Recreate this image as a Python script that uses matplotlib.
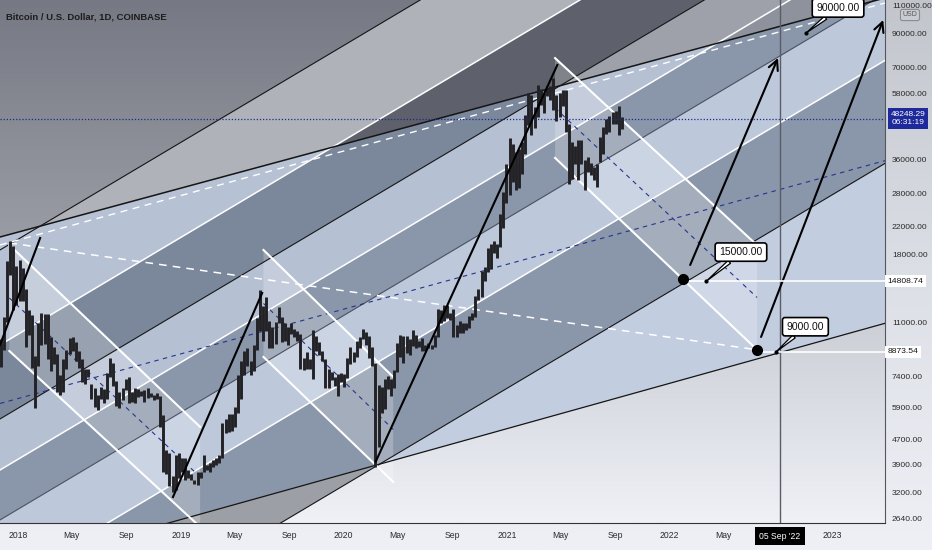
import numpy as np
import pandas as pd
import matplotlib.pyplot as plt
import matplotlib.dates as mdates
import matplotlib.font_manager as fm
from matplotlib.colors import LinearSegmentedColormap
from matplotlib.patches import Polygon
from matplotlib.ticker import FixedLocator, NullLocator, FuncFormatter

# BTC/USD weekly ranges (weeks starting Monday 2017-11-20)
week_start = "2017-11-20"
highs = [
    9750, 11400, 17200, 19800, 19100, 16500,
    # 2018
    17300, 16300, 14000, 12000, 11600, 8600, 10900, 11800, 11700, 11700, 9900, 9200, 8700,
    7500, 8400, 9000, 9800, 9900, 9500, 8900, 8400, 7800, 7800, 7000, 6800, 6500, 6850,
    6750, 7600, 8500, 8200, 7150, 6600, 6800, 7300, 7400, 6600, 6800, 6750, 6650, 6700,
    6800, 6550, 6500, 6550, 6450, 5600, 4350, 4250, 3600, 4200, 4250, 4100,
    # 2019
    4100, 3750, 3650, 3500, 3700, 3700, 4200, 3900, 3950, 4050, 4100, 4200, 5300, 5450,
    5650, 5650, 5950, 7500, 8300, 8900, 9100, 8300, 9300, 11300, 13900, 12400, 13200,
    11100, 10600, 11000, 12300, 11400, 10950, 10650, 10950, 10500, 10300, 10100, 8500,
    8850, 8400, 10400, 9950, 9550, 8900, 8400, 7850, 7650, 7400, 7550, 7600, 7550,
    # 2020
    8450, 9150, 8850, 9600, 9900, 10500, 10250, 9950, 9200, 8200, 6950, 6850, 7300, 7450,
    7300, 7750, 9450, 10050, 9950, 9950, 9750, 10400, 9990, 9600, 9800, 9350, 9450, 9300,
    10000, 12100, 12000, 12450, 12450, 11800, 12100, 10800, 11100, 10950, 10950, 11500,
    11750, 13350, 14000, 15950, 16450, 18800, 19400, 19900, 19400, 24200, 28400, 34800,
    # 2021
    41950, 40100, 37900, 38600, 40900, 49700, 58350, 57500, 52600, 61800, 60100, 58000,
    60200, 61300, 64850, 57500, 58400, 59600, 59600, 46600, 40800, 39500, 41300, 41300,
    35750, 36600, 35100, 34000, 34800, 42300, 45300, 48200, 49400, 50500, 51000, 52900,
    48850,
]
lows = [
    7950, 9000, 11000, 15500, 12000, 12500,
    # 2018
    12800, 12800, 9200, 10000, 7900, 5900, 8000, 9300, 9400, 8400, 7700, 8100, 6600,
    6500, 6600, 7800, 8700, 8900, 8300, 7900, 7100, 7000, 7400, 6300, 5950, 5800, 6300,
    6100, 6300, 7400, 6900, 6000, 5900, 6250, 6700, 6100, 6150, 6100, 6400, 6450, 6150,
    6350, 6400, 6250, 6300, 5150, 3700, 3650, 3350, 3200, 3250, 3550, 3700,
    # 2019
    3500, 3550, 3500, 3400, 3380, 3550, 3700, 3750, 3700, 3850, 3900, 3950, 4100, 4900,
    4950, 5000, 5150, 5700, 6300, 7500, 8000, 7500, 7700, 9000, 10300, 9600, 10300,
    9100, 9100, 9400, 10900, 9500, 9600, 9350, 10100, 9900, 9600, 7800, 7750,
    7800, 7850, 7300, 8900, 8650, 8300, 6800, 6800, 7200, 6900, 6450, 7100, 6850,
    # 2020
    7350, 8100, 8250, 8550, 9100, 9700, 9300, 8450, 8000, 3850, 4450, 5700, 5850, 6750,
    6450, 6800, 7650, 8550, 8150, 8800, 8650, 9250, 9100, 9200, 8950, 8950, 9100, 9050,
    9150, 9900, 10950, 11100, 11350, 11150, 9850, 9900, 10200, 10150, 10400, 10550,
    11200, 11400, 12950, 13200, 14800, 15800, 16200, 18200, 17600, 19000, 21800, 26100,
    # 2021
    27700, 30400, 28800, 29200, 32300, 37400, 46100, 43000, 45000, 49000, 53300, 50400,
    56800, 55450, 51500, 47500, 48800, 53000, 43800, 30000, 31200, 34800, 31000, 34800,
    28800, 32700, 32100, 31000, 29300, 35200, 37300, 43300, 43900, 46300, 46500, 42800,
    44700,
]

# visible range
x_left, x_right = "2017-11-21", "2023-04-29"
y_low, y_high = 2555, 114400

# ascending (steep) parallel channel: price of each line at left / right edge
steep_left = [18590, 9320, 5443, 3756, 2612, 1605, 759]
steep_right = [854000, 428000, 250000, 172650, 120000, 73750, 34880]
steep_colors = ["#151515", "white", "#151515", "white", "#4a5060", "white", "#151515"]
# shallow channel (upper / lower boundary) at left / right edge
shallow_upper = [20430, 116100]
shallow_lower = [1816, 10910]
shallow_dash = [19275, 111950]

# band colours (between consecutive steep lines) above / inside / below shallow channel
band_above = ["none", "#b0b2b9", "#5e616b", "#9ea1a9", "#8d929d", "#98a0ae", "#9d9fa6", "none"]
band_inside = ["#b6c1d3", "#b6c1d3", "#7b879a", "#b5c0d3", "#8a96aa", "#bdc8da", "#8a96a9", "#c3cde0"]
band_below = ["#9d9fa6"] * 7 + ["none"]

# descending channels
chan_start = ["2017-12-12", "2019-07-05", "2021-04-19"]
chan_end = ["2019-02-13", "2020-04-21", "2022-07-16"]
chan_up_start = [19280, 18590, 75000]
chan_up_end = [5135, 7386, 19250]
chan_lo_start = [8920, 8541, 36300]
chan_lo_end = [2482, 3443, 9000]

# trend lines (black) and arrows
trend_start = [("2017-11-21", 9320), ("2018-12-14", 3087), ("2020-03-13", 4000)]
trend_end = [("2018-02-19", 20280), ("2019-07-02", 13600), ("2021-04-24", 71330)]
arrow_start = [("2022-02-16", 16670), ("2022-07-25", 9877)]
arrow_end = [("2022-09-01", 75050), ("2023-04-25", 98930)]
fan_dash = [("2017-12-12", 19560), ("2022-07-16", 9000)]

# target dots, callouts and horizontal rays
dot_dates = ["2022-01-31", "2022-07-16"]
dot_prices = [15000, 9000]
callout_text = ["15000.00", "9000.00", "90000.00"]
callout_dates = ["2022-03-24", "2022-08-28", "2022-11-03"]
callout_prices = [14808.74, 8873.54, 90000]
ray_prices = [14808.74, 8873.54]

last_price = 48248.29
cross_date = "2022-09-05"

ytick_vals = [2640, 3200, 3900, 4700, 5900, 7400, 11000, 18000, 22000, 28000, 36000,
              58000, 70000, 90000, 110000]
xtick_dates = ["2018-01-01", "2018-05-01", "2018-09-01", "2019-01-01", "2019-05-01",
               "2019-09-01", "2020-01-01", "2020-05-01", "2020-09-01", "2021-01-01",
               "2021-05-01", "2021-09-01", "2022-01-01", "2022-05-01", "2023-01-01"]
xtick_labels = ["2018", "May", "Sep", "2019", "May", "Sep", "2020", "May", "Sep",
                "2021", "May", "Sep", "2022", "May", "2023"]


def d(s):
    return mdates.date2num(pd.Timestamp(s))


names = {f.name for f in fm.fontManager.ttflist}
narrow = "Liberation Sans Narrow" if "Liberation Sans Narrow" in names else "Liberation Sans"

fig = plt.figure(figsize=(9.32, 5.5), dpi=100)
pos = [0, 27 / 550, 885 / 932, 523 / 550]

# figure background (axis panels)
bg = fig.add_axes([0, 0, 1, 1], zorder=0)
bg.axis("off")
cm_fig = LinearSegmentedColormap.from_list("f", ["#eef0f6", "#dcdfe5", "#c3c5cc"])
bg.imshow(np.linspace(0, 1, 256).reshape(-1, 1), origin="lower", extent=(0, 1, 0, 1),
          aspect="auto", cmap=cm_fig)

# plot background gradient
pbg = fig.add_axes(pos, zorder=1)
pbg.axis("off")
cm_plot = LinearSegmentedColormap.from_list(
    "p", [(0, "#eff1f7"), (0.37, "#cdd0d7"), (0.55, "#9a9ca5"), (1, "#767883")])
pbg.imshow(np.linspace(0, 1, 256).reshape(-1, 1), origin="lower", extent=(0, 1, 0, 1),
           aspect="auto", cmap=cm_plot)

ax = fig.add_axes(pos, zorder=2)
ax.set_facecolor("none")
ax.set_yscale("log")
xl, xr = d(x_left), d(x_right)

# shallow-channel zones used as clip paths
zones = {
    "above": [(xl, shallow_upper[0]), (xr, shallow_upper[1]), (xr, 1e10), (xl, 1e10)],
    "inside": [(xl, shallow_upper[0]), (xr, shallow_upper[1]),
               (xr, shallow_lower[1]), (xl, shallow_lower[0])],
    "below": [(xl, shallow_lower[0]), (xr, shallow_lower[1]), (xr, 1), (xl, 1)],
}
edges_left = [1e8] + steep_left + [1]
edges_right = [1e10] + steep_right + [1]
for zname, colors in [("above", band_above), ("inside", band_inside), ("below", band_below)]:
    for i, c in enumerate(colors):
        if c == "none":
            continue
        verts = [(xl, edges_left[i]), (xr, edges_right[i]),
                 (xr, edges_right[i + 1]), (xl, edges_left[i + 1])]
        band = Polygon(verts, closed=True, fc=c, ec="none", zorder=1)
        ax.add_patch(band)
        band.set_clip_path(Polygon(zones[zname], closed=True, transform=ax.transData))

# steep channel lines
for pl, pr, c in zip(steep_left, steep_right, steep_colors):
    ax.plot([xl, xr], [pl, pr], color=c, lw=1.1 if c == "white" else 0.8, zorder=3)

# shallow channel lines
ax.plot([xl, xr], shallow_upper, color="#151515", lw=1.1, zorder=3)
ax.plot([xl, xr], shallow_lower, color="#151515", lw=0.9, zorder=3)
ax.plot([xl, xr], shallow_dash, color="white", lw=1.0, ls=(0, (5, 4)), zorder=3)
ax.plot([xl, xr], [np.sqrt(shallow_upper[0] * shallow_lower[0]),
                   np.sqrt(shallow_upper[1] * shallow_lower[1])],
        color="#27348e", lw=0.8, ls=(0, (4, 4)), zorder=3)

# descending channels
for s, e, us, ue, ls_, le in zip(chan_start, chan_end, chan_up_start, chan_up_end,
                                 chan_lo_start, chan_lo_end):
    s, e = d(s), d(e)
    ax.add_patch(Polygon([(s, us), (e, ue), (e, le), (s, ls_)], closed=True,
                         fc="white", ec="none", alpha=0.22, zorder=2))
    ax.plot([s, e], [us, ue], color="white", lw=1.5, zorder=3)
    ax.plot([s, e], [ls_, le], color="white", lw=1.5, zorder=3)
    ax.plot([s, e], [np.sqrt(us * ls_), np.sqrt(ue * le)], color="#27348e", lw=0.8,
            ls=(0, (4, 4)), zorder=3)

ax.plot([d(fan_dash[0][0]), d(fan_dash[1][0])], [fan_dash[0][1], fan_dash[1][1]],
        color="white", lw=1.1, ls=(0, (5, 4)), zorder=3)

# price bars
wk = pd.date_range(week_start, periods=len(highs), freq="7D") + pd.Timedelta(days=3)
ax.vlines(mdates.date2num(wk), lows, highs, color="#222226", lw=2.1, zorder=4)

# current price line and crosshair
ax.axhline(last_price, color="#1c2a90", lw=0.9, ls=(0, (1, 1.5)), zorder=4)
ax.axvline(d(cross_date), color="#5a5d66", lw=1.0, zorder=4)

# trend lines and arrows
for (s, ps), (e, pe) in zip(trend_start, trend_end):
    ax.plot([d(s), d(e)], [ps, pe], color="black", lw=1.5, zorder=5)
for (s, ps), (e, pe) in zip(arrow_start, arrow_end):
    ax.annotate("", xy=(d(e), pe), xytext=(d(s), ps), zorder=5,
                arrowprops=dict(arrowstyle="->,head_length=0.7,head_width=0.35",
                                color="black", lw=1.5, shrinkA=0, shrinkB=0))

# horizontal rays from the target dots
for dd, p in zip(dot_dates, ray_prices):
    ax.plot([d(dd), xr], [p, p], color="white", lw=1.2, zorder=5)
ax.plot([d(x) for x in dot_dates], dot_prices, "o", ms=7, color="black", zorder=6)

# callouts
offsets = [(25, 21), (21, 18), (23, 18)]
for t, dd, p, off in zip(callout_text, callout_dates, callout_prices, offsets):
    ax.plot(d(dd), p, "o", ms=2, color="black", zorder=7)
    ax.annotate(t, xy=(d(dd), p), xytext=off, textcoords="offset points",
                ha="center", va="center", fontsize=7.5, family=narrow, color="#111",
                zorder=7, annotation_clip=False,
                bbox=dict(boxstyle="round,pad=0.4,rounding_size=0.25", fc="white",
                          ec="black", lw=1.2),
                arrowprops=dict(arrowstyle="wedge,tail_width=0.35", fc="white",
                                ec="black", lw=0.9, shrinkA=0, shrinkB=0))

ax.set_xlim(xl, xr)
ax.set_ylim(y_low, y_high)

# axes styling
ax.yaxis.tick_right()
ax.yaxis.set_major_locator(FixedLocator(ytick_vals))
ax.yaxis.set_minor_locator(NullLocator())
ax.yaxis.set_major_formatter(FuncFormatter(lambda v, p: f"{v:.2f}"))
ax.tick_params(axis="y", length=0, pad=5, labelsize=6.1, labelcolor="#2a2a2a",
               labelfontfamily=narrow)
ax.set_xticks([d(x) for x in xtick_dates])
ax.set_xticklabels(xtick_labels)
ax.tick_params(axis="x", length=0, pad=6, labelsize=6.2, labelcolor="#2a2a2a",
               labelfontfamily=narrow)
for sp in ["top", "left"]:
    ax.spines[sp].set_visible(False)
ax.spines["bottom"].set_color("#333333")
ax.spines["right"].set_color("#55575e")

# price labels on the right axis
ytr = ax.get_yaxis_transform()
ax.text(1.026, last_price, f"{last_price:.2f}\n06:31:19", transform=ytr, ha="center",
        va="center", fontsize=6, family=narrow, color="white", linespacing=1.15,
        clip_on=False, zorder=10,
        bbox=dict(boxstyle="square,pad=0.35", fc="#1e2a9c", ec="none"))
for p in ray_prices:
    ax.text(1.003, p, f"{p:.2f}", transform=ytr, ha="left", va="center", fontsize=6.1,
            family=narrow, color="#111", clip_on=False, zorder=10,
            bbox=dict(boxstyle="square,pad=0.3", fc="white", ec="none"))
ax.text(d(cross_date), -0.025, "05 Sep '22", transform=ax.get_xaxis_transform(),
        ha="center", va="center", fontsize=6.2, family=narrow, color="white",
        clip_on=False, zorder=10, bbox=dict(boxstyle="square,pad=0.5", fc="black", ec="none"))

fig.text(910 / 932, 1 - 15 / 550, "USD", ha="center", va="center", fontsize=5,
         family=narrow, color="#555", zorder=10,
         bbox=dict(boxstyle="round,pad=0.3", fc="#c9cbd1", ec="#8a8c93", lw=0.8))
fig.text(6 / 932, 1 - 17 / 550, "Bitcoin / U.S. Dollar, 1D, COINBASE", ha="left",
         va="center", fontsize=6.8, fontweight="bold", family=narrow, color="#1d1d1d",
         zorder=10)

fig.savefig("out.png", dpi=100)
